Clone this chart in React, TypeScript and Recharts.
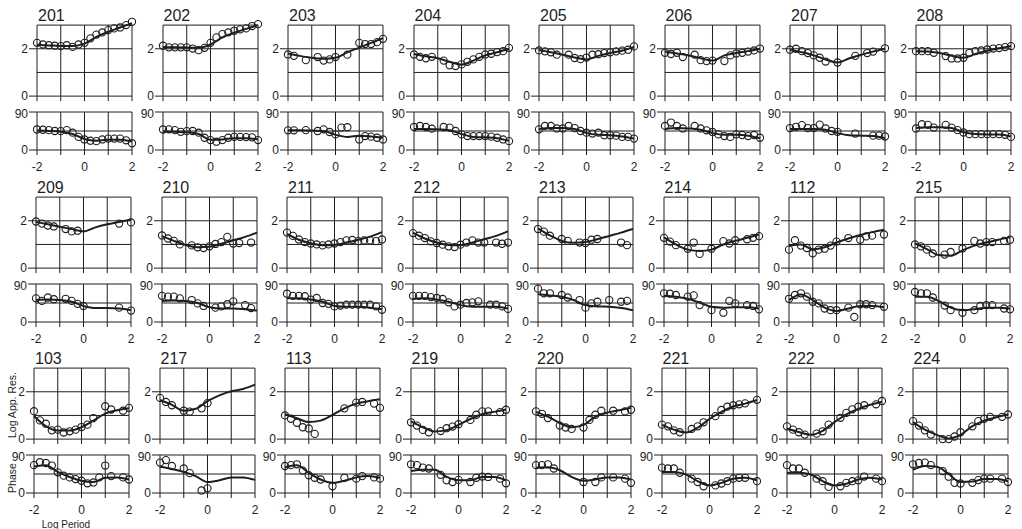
import { ComposedChart, Line, Scatter, XAxis, YAxis, ReferenceLine } from 'recharts';

const _ = null;

// station numbers, left to right, top to bottom
const sites = [
  '201', '202', '203', '204', '205', '206', '207', '208',
  '209', '210', '211', '212', '213', '214', '112', '215',
  '103', '217', '113', '219', '220', '221', '222', '224',
];

// log10 period of the measured soundings and of the model curves
const obsPeriods = [-2, -1.75, -1.5, -1.25, -1, -0.75, -0.5, -0.25, 0, 0.25, 0.5, 0.75, 1, 1.25, 1.5, 1.75, 2];
const modelPeriods = [-2, -1.5, -1, -0.5, 0, 0.5, 1, 1.5, 2];

const resTicks = [0, 2];
const phaseTicks = [0, 90];
const periodTicks = [-2, -1, 0, 1, 2];

// measured log apparent resistivity
const resObs: (number | null)[][] = [
  [2.25, 2.18, 2.15, 2.13, 2.11, 2.15, 2.08, 2.18, 2.25, 2.44, 2.6, 2.69, 2.79, 2.86, 2.9, 3.0, 3.14],
  [2.13, 2.06, 2.06, 2.06, 2.06, 2.01, 1.94, 2.04, 2.25, 2.48, 2.62, 2.69, 2.76, 2.82, 2.86, 2.96, 3.04],
  [1.76, 1.7, _, 1.52, _, 1.65, 1.5, 1.55, 1.65, _, 1.75, _, 2.25, 2.2, 2.2, 2.28, 2.42],
  [1.76, 1.66, 1.6, 1.66, _, 1.5, 1.3, 1.27, 1.34, 1.45, 1.55, 1.66, 1.76, 1.79, 1.86, 1.9, 2.04],
  [1.93, 1.89, 1.85, 1.75, _, 1.75, 1.61, 1.56, 1.63, 1.75, 1.77, 1.82, 1.85, 1.89, 1.92, 1.96, 2.1],
  [1.83, 1.78, 1.83, 1.65, _, 1.75, 1.52, 1.48, 1.5, _, 1.48, 1.72, 1.8, 1.83, 1.88, 1.93, 2.01],
  [1.96, 2.0, 1.9, 1.82, 1.72, 1.62, 1.46, _, 1.42, _, _, 1.7, _, 1.82, 1.88, _, 2.02],
  [1.9, 1.9, 1.9, 1.83, _, 1.69, 1.59, 1.59, 1.62, 1.83, 1.9, 1.93, 1.97, 2.01, 2.03, 2.07, 2.11],
  [1.97, 1.88, 1.8, 1.76, _, 1.65, 1.55, 1.58, _, _, _, _, _, _, 1.88, _, 1.93],
  [1.38, 1.25, 1.15, 1.0, _, 0.96, 0.88, 0.85, 0.92, 1.02, 1.1, 1.32, 1.04, 1.06, _, 1.08, _],
  [1.5, 1.36, 1.21, 1.1, 1.04, 1.0, 0.96, 1.0, 1.04, 1.1, 1.17, 1.19, 1.14, 1.17, 1.17, 1.14, 1.21],
  [1.48, 1.37, 1.27, 1.13, 1.06, 0.99, 0.92, 0.89, 0.99, 1.08, 1.17, 1.08, 1.08, _, 1.08, 1.03, 1.08],
  [1.65, 1.54, 1.37, _, 1.23, 1.15, _, 1.08, 1.06, 1.2, 1.23, _, _, _, 1.08, 0.97, _],
  [1.28, 1.12, 0.97, _, 0.82, 1.08, 0.6, _, 0.82, _, 1.14, 1.04, 1.18, _, 1.22, 1.28, 1.35],
  [0.78, 1.18, 0.95, 0.85, 0.62, 0.78, 0.82, 0.95, 1.12, _, 1.27, _, 1.2, 1.34, 1.37, _, 1.42],
  [1.0, 0.92, 0.78, 0.62, _, 0.57, 0.68, _, 0.83, _, 1.15, 1.04, 1.1, 1.1, _, 1.15, 1.2],
  [1.18, 0.79, 0.65, 0.37, 0.4, 0.28, 0.33, 0.4, 0.51, 0.61, 0.89, _, 1.39, 1.25, _, 1.2, 1.32],
  [1.74, 1.57, 1.43, _, 1.2, 1.16, _, 1.3, 1.52, _, _, _, _, _, _, _, _],
  [1.0, 0.86, 0.69, 0.5, 0.45, 0.22, _, _, _, _, 1.3, _, 1.54, 1.57, _, 1.5, 1.32],
  [0.71, 0.57, 0.39, 0.29, _, 0.34, 0.46, 0.53, 0.63, _, 0.81, 1.03, 1.17, 1.17, _, 1.14, 1.24],
  [1.17, 1.07, 0.89, _, 0.57, 0.49, 0.43, _, 0.49, 0.81, 1.03, 1.2, _, 1.2, _, 1.17, 1.24],
  [0.61, 0.54, 0.37, 0.29, _, 0.43, 0.54, 0.71, _, 0.97, 1.23, 1.37, 1.43, 1.47, 1.51, _, 1.66],
  [0.54, 0.4, 0.29, 0.19, _, 0.23, 0.33, 0.61, _, 0.9, 1.11, 1.26, 1.37, 1.43, _, 1.47, 1.61],
  [0.76, 0.57, 0.37, 0.19, _, 0.0, 0.0, 0.11, 0.29, _, 0.54, 0.76, 0.86, 0.94, _, 0.94, 1.04],
];

// model response, log apparent resistivity
const resModel: number[][] = [
  [2.17, 2.14, 2.12, 2.12, 2.22, 2.5, 2.72, 2.9, 3.08],
  [2.08, 2.06, 2.05, 2.04, 2.18, 2.48, 2.68, 2.84, 3.0],
  [1.8, 1.7, 1.62, 1.58, 1.62, 1.85, 2.05, 2.25, 2.45],
  [1.78, 1.68, 1.6, 1.45, 1.33, 1.5, 1.72, 1.85, 2.0],
  [1.95, 1.85, 1.75, 1.63, 1.55, 1.7, 1.82, 1.92, 2.08],
  [1.88, 1.8, 1.72, 1.6, 1.5, 1.72, 1.82, 1.9, 2.0],
  [1.95, 1.85, 1.72, 1.55, 1.42, 1.6, 1.75, 1.88, 2.0],
  [1.9, 1.88, 1.82, 1.7, 1.62, 1.78, 1.92, 2.02, 2.12],
  [1.95, 1.85, 1.75, 1.65, 1.55, 1.72, 1.85, 1.95, 2.05],
  [1.35, 1.15, 0.98, 0.88, 0.9, 1.03, 1.18, 1.32, 1.5],
  [1.45, 1.2, 1.05, 0.97, 0.98, 1.08, 1.2, 1.33, 1.52],
  [1.5, 1.25, 1.08, 0.98, 0.97, 1.08, 1.22, 1.36, 1.55],
  [1.68, 1.38, 1.15, 1.07, 1.1, 1.22, 1.36, 1.5, 1.65],
  [1.3, 1.0, 0.78, 0.72, 0.78, 1.0, 1.15, 1.28, 1.42],
  [0.95, 1.0, 0.8, 0.88, 1.08, 1.25, 1.4, 1.52, 1.62],
  [1.05, 0.8, 0.55, 0.52, 0.75, 0.95, 1.08, 1.2, 1.3],
  [0.98, 0.55, 0.36, 0.36, 0.5, 0.78, 1.08, 1.22, 1.3],
  [1.65, 1.45, 1.2, 1.28, 1.6, 1.85, 2.02, 2.12, 2.3],
  [1.05, 0.88, 0.72, 0.78, 1.02, 1.3, 1.5, 1.6, 1.68],
  [0.75, 0.5, 0.32, 0.38, 0.6, 0.85, 1.05, 1.15, 1.25],
  [1.15, 0.95, 0.68, 0.5, 0.6, 0.95, 1.12, 1.22, 1.32],
  [0.6, 0.4, 0.28, 0.48, 0.85, 1.15, 1.38, 1.5, 1.65],
  [0.45, 0.3, 0.18, 0.35, 0.72, 1.05, 1.28, 1.45, 1.58],
  [0.72, 0.4, 0.18, 0.03, 0.18, 0.55, 0.78, 0.92, 1.05],
];

// measured phase, degrees
const phaseObs: (number | null)[][] = [
  [48.5, 48, 47, 45, 44.6, 47, 41, 31, 25, 22, 21, 25, 27, 27, 27, 23, 16],
  [48.5, 49, 47, 43, 44.6, 45, 41, 29, 23.5, 19.6, 23.5, 29, 31, 31, 30.5, 30, 23.5],
  [46.6, 46.6, _, 47, _, 45, 49, 42.6, 37, 53, 54, _, 25, 33, 31.6, 29, 25],
  [54.5, 57, 54.5, 50.5, _, 54.5, 53, 45, 37, 33, 33, 33, 33, 31.6, 29, 25, 21],
  [49, 57, 57, 51, 51, 57, 52, 45, 41, 39, 41, 35, 35, 34, 31, 31, 27],
  [57, 65, 57, 51, _, 57, 51, 46.6, 42.6, 37, 33, 31, 37, 35.5, 33, 35.5, 29],
  [52, 55, 59, 52, 52, 60, 51, 45, 43, _, _, 39, _, _, 34, 34, 32],
  [51, 61, 59.5, 53, _, 59.5, 53, 47, 41.5, 37.5, 37.5, 37.5, 37.5, 37.5, 37.5, 36, 31],
  [56, 50, 58, 54, _, 55, 50, 43, 38, _, _, _, _, _, 34, _, 27],
  [62, 60, 60, 56, _, 52, 44, 38, _, 34, 37, 42, 49, _, 40, 33, _],
  [67, 62, 62, 61, 53, 57, 45, 43, 37, 39, 41, 41, 41, 41, 41, 37, 29],
  [62, 62, 62, 59, 57, 54.5, 46.6, 37, 41, 45, 46.6, 49, _, 41, 41, 37, 31],
  [79, 68, 68, _, 64, 58, _, 52, 34, 44, 48, _, 52, _, 48, 50, _],
  [68, 67, 64, _, 60, 63, 40, _, 28, _, 22, 50, 44, _, 40, 38, 30],
  [55, 64, 68, 60, 48, 44, 32, 28, 28, _, 34, 12, 42, 42, 40, _, 36],
  [71, 68, 68, 58, _, 39, 28, _, 22, _, 28, 38, 40, 40, _, 32, 30],
  [66, 73, 71, 65, 49, 41, 37, 33, 29, 23, 25, 37, 65, 40, _, 37, 32],
  [72, 78, 64, _, 58, 47, _, 6, 11, _, _, _, _, _, _, _, _],
  [64, 66, 68, 53, 42, 36, 32, _, 16, _, 36, _, 34, 40, _, 37, 34],
  [68, 66, 60, 58, _, 43, 30, 26, 31, _, 26, 36, 39, 38, _, 34, 23],
  [66, 66, 68, 58, _, _, _, _, 26, _, 26, 37, _, 37, _, 34, 24],
  [60, 58, 58, 48, _, 34, 26, 16, _, 18, 22.5, 28, 34, 36, 36, _, 28],
  [66, 58, 58, 48, _, 34, 28, 14.5, _, 16, 24, 28, 30, 39, _, 34, 28],
  [68, 71, 72, 66, _, 52, 38.6, 24, 22.5, _, 24, 30.5, 34, 34, _, 34, 26],
];

// model response, phase in degrees
const phaseModel: number[][] = [
  [46, 45, 43, 38, 26, 22, 24, 24, 20],
  [44, 43, 42, 38, 24, 25, 28, 28, 25],
  [47, 47, 46, 45, 36, 31, 34, 32, 29],
  [50, 50, 49, 47, 38, 31, 30, 28, 22],
  [50, 52, 52, 50, 40, 36, 35, 32, 27],
  [50, 52, 51, 48, 40, 36, 36, 34, 28],
  [50, 50, 50, 48, 40, 35, 34, 33, 28],
  [52, 54, 54, 52, 42, 38, 37, 37, 32],
  [52, 53, 52, 48, 38, 33, 33, 32, 28],
  [50, 51, 50, 45, 35, 32, 32, 30, 27],
  [56, 56, 53, 48, 38, 36, 36, 34, 30],
  [55, 56, 53, 48, 40, 36, 36, 36, 32],
  [66, 63, 60, 52, 40, 37, 36, 33, 28],
  [62, 60, 55, 46, 36, 34, 35, 35, 32],
  [52, 65, 52, 34, 26, 32, 38, 38, 35],
  [60, 60, 50, 34, 28, 30, 34, 34, 32],
  [63, 66, 50, 38, 29, 26, 36, 37, 32],
  [62, 57, 50, 40, 26, 30, 37, 37, 31],
  [61, 66, 48, 32, 24, 29, 37, 40, 36],
  [52, 55, 55, 38, 30, 30, 38, 38, 30],
  [60, 61, 54, 38, 29, 32, 37, 37, 32],
  [50, 50, 44, 28, 18, 24, 34, 36, 30],
  [48, 48, 44, 28, 18, 22, 32, 36, 32],
  [55, 64, 62, 45, 26, 27, 33, 33, 28],
];

const FONT = '"Liberation Sans", Arial, Helvetica, sans-serif';
const INK = '#1e1e1e';

// grid layout
const COLS = 8;
const COL_X0 = 36;
const COL_STEP = 125.5;
const ROW_SHIFT = [1, 0, -2];
const ROW_TOP = [25, 197, 368];
const PLOT_W = 95;
const UNIT = 23.67; // px per decade
const RES_MAX = 3.3; // a little headroom above the frame for high points
const PHASE_OFFSET = 87;
const PHASE_H = 38;
const AXIS_W = 34;
const PAD_TOP = 6;
const PAD_RIGHT = 8;

const tickStyle = { fontSize: 12, fill: INK, fontFamily: FONT };

const toPoints = (xs: number[], ys: (number | null)[]) =>
  xs.map((x, i) => ({ x, y: ys[i] })).filter((p) => p.y !== null);

const Ring = (props: any) =>
  props.cx == null || props.cy == null ? null : (
    <circle cx={props.cx} cy={props.cy} r={3.6} fill="none" stroke={INK} strokeWidth={1.1} />
  );

function Panel({ index }: { index: number }) {
  const col = index % COLS;
  const row = Math.floor(index / COLS);
  const left = COL_X0 + col * COL_STEP + ROW_SHIFT[row];
  const top = ROW_TOP[row];
  const resH = RES_MAX * UNIT;
  const chartW = AXIS_W + PLOT_W + PAD_RIGHT;

  return (
    <>
      <div
        style={{
          position: 'absolute',
          left: left + 1,
          top: top - 17,
          fontSize: 16,
          lineHeight: '16px',
          fontFamily: FONT,
          color: INK,
        }}
      >
        {sites[index]}
      </div>

      {/* apparent resistivity */}
      <div style={{ position: 'absolute', left: left - AXIS_W, top: top - (RES_MAX - 3) * UNIT - PAD_TOP }}>
        <ComposedChart
          width={chartW}
          height={PAD_TOP + resH + 8}
          margin={{ top: PAD_TOP, right: PAD_RIGHT, bottom: 0, left: 0 }}
        >
          <XAxis
            type="number"
            dataKey="x"
            domain={[-2, 2]}
            ticks={periodTicks}
            tickFormatter={() => ''}
            tickSize={5}
            height={8}
            stroke={INK}
          />
          <YAxis
            type="number"
            dataKey="y"
            domain={[0, RES_MAX]}
            ticks={resTicks}
            width={AXIS_W}
            axisLine={false}
            tickSize={8}
            tickMargin={1}
            tick={tickStyle}
            stroke={INK}
          />
          {[1, 2, 3].map((v) => (
            <ReferenceLine key={'h' + v} y={v} stroke={INK} strokeWidth={1} />
          ))}
          {periodTicks.map((v) => (
            <ReferenceLine
              key={'v' + v}
              segment={[{ x: v, y: 0 }, { x: v, y: 3 }]}
              stroke={INK}
              strokeWidth={1}
              ifOverflow="visible"
            />
          ))}
          <Line
            data={toPoints(modelPeriods, resModel[index])}
            dataKey="y"
            type="monotone"
            stroke={INK}
            strokeWidth={2}
            dot={false}
            isAnimationActive={false}
          />
          <Scatter data={toPoints(obsPeriods, resObs[index])} shape={Ring} isAnimationActive={false} />
        </ComposedChart>
      </div>

      {/* phase */}
      <div style={{ position: 'absolute', left: left - AXIS_W, top: top + PHASE_OFFSET - PAD_TOP }}>
        <ComposedChart
          width={chartW}
          height={PAD_TOP + PHASE_H + 24}
          margin={{ top: PAD_TOP, right: PAD_RIGHT, bottom: 0, left: 0 }}
        >
          <XAxis
            type="number"
            dataKey="x"
            domain={[-2, 2]}
            ticks={periodTicks}
            tickFormatter={(v: number) => (Math.abs(v) === 1 ? '' : String(v))}
            tickSize={5}
            tickMargin={7}
            height={24}
            tick={tickStyle}
            stroke={INK}
          />
          <YAxis
            type="number"
            dataKey="y"
            domain={[0, 90]}
            ticks={phaseTicks}
            width={AXIS_W}
            tickSize={8}
            tickMargin={1}
            tick={tickStyle}
            stroke={INK}
          />
          {[45, 90].map((v) => (
            <ReferenceLine key={'h' + v} y={v} stroke={INK} strokeWidth={1} ifOverflow="visible" />
          ))}
          {[-1, 0, 1, 2].map((v) => (
            <ReferenceLine key={'v' + v} x={v} stroke={INK} strokeWidth={1} ifOverflow="visible" />
          ))}
          <Line
            data={toPoints(modelPeriods, phaseModel[index])}
            dataKey="y"
            type="monotone"
            stroke={INK}
            strokeWidth={2}
            dot={false}
            isAnimationActive={false}
          />
          <Scatter data={toPoints(obsPeriods, phaseObs[index])} shape={Ring} isAnimationActive={false} />
        </ComposedChart>
      </div>
    </>
  );
}

export default function App() {
  return (
    <div
      style={{
        position: 'absolute',
        left: 0,
        top: 0,
        width: 1022,
        height: 529,
        background: '#fff',
        overflow: 'hidden',
        fontFamily: FONT,
      }}
    >
      {sites.map((s, i) => (
        <Panel key={s} index={i} />
      ))}
      <svg width={1022} height={529} style={{ position: 'absolute', left: 0, top: 0, pointerEvents: 'none' }}>
        <text
          x={13}
          y={405}
          transform="rotate(-90 13 405)"
          textAnchor="middle"
          dominantBaseline="middle"
          fontSize={10.5}
          fontFamily={FONT}
          fill={INK}
        >
          Log App. Res.
        </text>
        <text
          x={13}
          y={478}
          transform="rotate(-90 13 478)"
          textAnchor="middle"
          dominantBaseline="middle"
          fontSize={10.5}
          fontFamily={FONT}
          fill={INK}
        >
          Phase
        </text>
        <text x={66} y={528} textAnchor="middle" fontSize={10} fontFamily={FONT} fill={INK}>
          Log Period
        </text>
      </svg>
    </div>
  );
}
